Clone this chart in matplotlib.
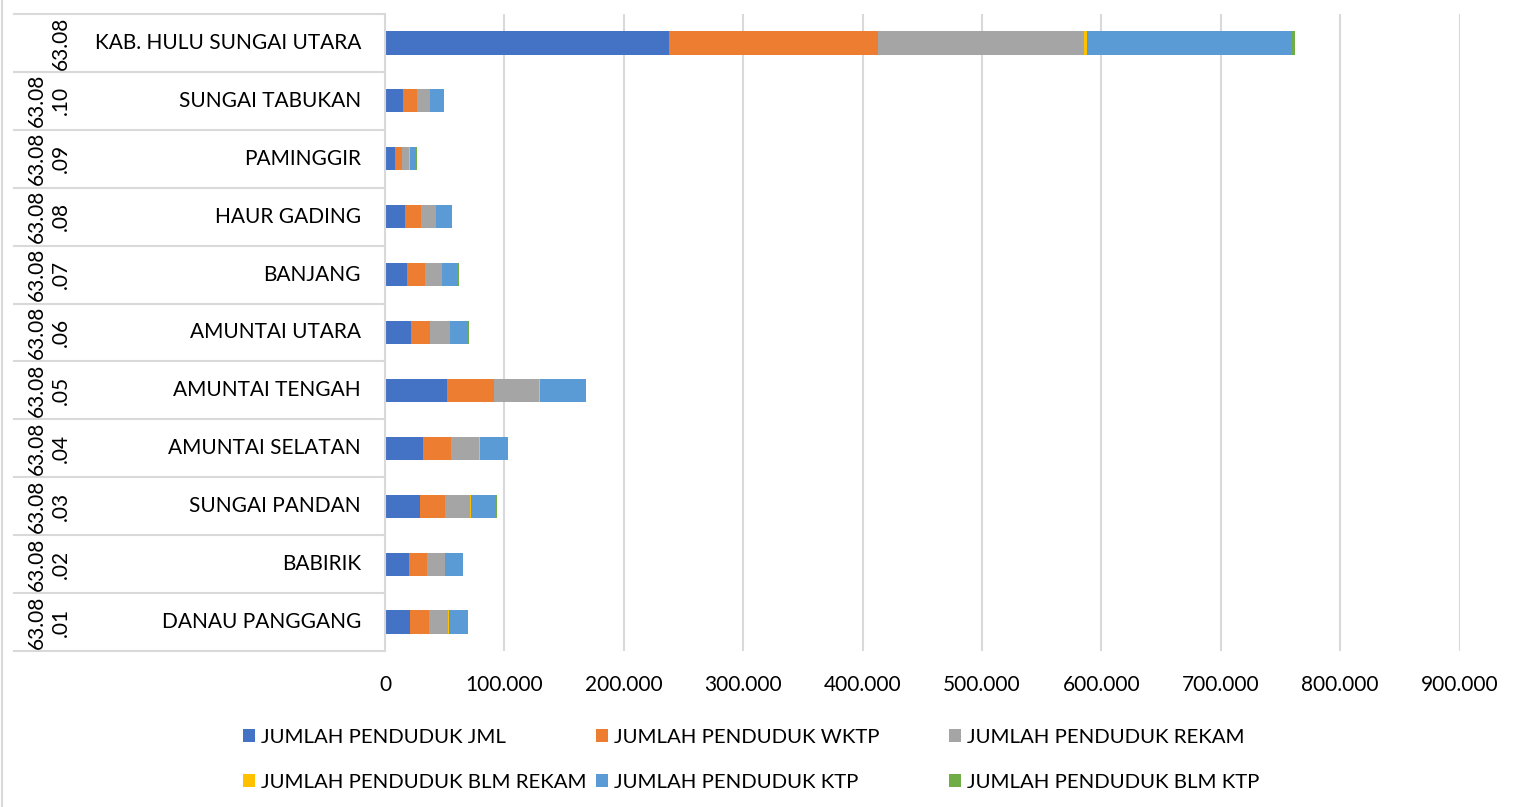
import numpy as np
import matplotlib.pyplot as plt
from matplotlib.ticker import FuncFormatter
from matplotlib.lines import Line2D

plt.rcParams['font.family'] = ['Lato', 'DejaVu Sans']

# categories, listed bottom -> top as in the chart
kode = ["63.08\n.01", "63.08\n.02", "63.08\n.03", "63.08\n.04", "63.08\n.05",
        "63.08\n.06", "63.08\n.07", "63.08\n.08", "63.08\n.09", "63.08\n.10",
        "63.08"]
wilayah = ["DANAU PANGGANG", "BABIRIK", "SUNGAI PANDAN", "AMUNTAI SELATAN",
           "AMUNTAI TENGAH", "AMUNTAI UTARA", "BANJANG", "HAUR GADING",
           "PAMINGGIR", "SUNGAI TABUKAN", "KAB. HULU SUNGAI UTARA"]

jml = [21200, 20400, 29300, 32100, 52200, 21800, 18700, 17000, 8400, 15400, 237900]
wktp = [16000, 15000, 21300, 23600, 38800, 16300, 14600, 13000, 6100, 11200, 174900]
rekam = [15800, 14800, 21000, 23200, 38100, 16100, 14400, 12800, 6000, 11000, 172500]
blm_rekam = [200, 200, 300, 400, 700, 200, 200, 200, 100, 200, 2400]
ktp = [15500, 14600, 21200, 23000, 37800, 15400, 13500, 12500, 5700, 10700, 171000]
blm_ktp = [500, 600, 500, 600, 800, 600, 500, 500, 400, 500, 3900]

series = [
    ("JUMLAH PENDUDUK JML", jml, "#4472C4"),
    ("JUMLAH PENDUDUK WKTP", wktp, "#ED7D31"),
    ("JUMLAH PENDUDUK REKAM", rekam, "#A5A5A5"),
    ("JUMLAH PENDUDUK BLM REKAM", blm_rekam, "#FFC000"),
    ("JUMLAH PENDUDUK KTP", ktp, "#5B9BD5"),
    ("JUMLAH PENDUDUK BLM KTP", blm_ktp, "#70AD47"),
]

W, H = 1513, 807
fig = plt.figure(figsize=(W / 100, H / 100), dpi=100)
x0, x1, y0, y1 = 385, 1459.5, 14, 651
ax = fig.add_axes([x0 / W, 1 - y1 / H, (x1 - x0) / W, (y1 - y0) / H])

grid_c = "#D9D9D9"
y = np.arange(len(wilayah))
left = np.zeros(len(wilayah))
handles = []
for nama, vals, col in series:
    vals = np.array(vals, dtype=float)
    b = ax.barh(y, vals, left=left, height=0.4, color=col, label=nama)
    handles.append(b)
    left += vals

ax.set_xlim(0, 900000)
ax.set_ylim(-0.5, len(wilayah) - 0.5)
ax.set_xticks(np.arange(0, 900001, 100000))
ax.xaxis.set_major_formatter(FuncFormatter(lambda v, p: f"{int(v):,}".replace(",", ".")))
ax.tick_params(axis="x", length=0, pad=17, labelsize=15, colors="#000000")
ax.set_yticks([])
ax.grid(axis="x", color=grid_c, linewidth=1.5)
ax.set_axisbelow(True)
for s in ["top", "right", "bottom"]:
    ax.spines[s].set_visible(False)
ax.spines["left"].set_color(grid_c)
ax.spines["left"].set_linewidth(1.5)

# category table on the left
tr = ax.get_yaxis_transform()
tab_left = (14 - x0) / (x1 - x0)
for k in range(len(wilayah) + 1):
    ax.add_line(Line2D([tab_left, 0], [k - 0.5, k - 0.5], transform=tr,
                       color=grid_c, linewidth=1.5, clip_on=False))
for i, (kd, nm) in enumerate(zip(kode, wilayah)):
    ax.text((361 - x0) / (x1 - x0), i, nm, transform=tr, ha="right",
            va="center", fontsize=15)
    ax.text((71 - x0) / (x1 - x0), i, kd, transform=tr, ha="right",
            va="center", rotation=90, fontsize=15, linespacing=1.25,
            multialignment="center")

# frame line on the left of the chart area
fig.add_artist(Line2D([1.5 / W, 1.5 / W], [0, 1], color=grid_c, linewidth=1.5))

# legend: three columns, two rows
cols = [(0, 3), (1, 4), (2, 5)]
xs = [243, 596, 949]
for (a, b), xl in zip(cols, xs):
    fig.legend([handles[a], handles[b]], [series[a][0], series[b][0]],
               loc="upper left", bbox_to_anchor=(xl / W, 1 - 729 / H),
               frameon=False, fontsize=14.7, handlelength=0.6, handleheight=0.6,
               handletextpad=0.3, labelspacing=1.38, borderaxespad=0,
               borderpad=0)

fig.savefig("out.png", dpi=100)
